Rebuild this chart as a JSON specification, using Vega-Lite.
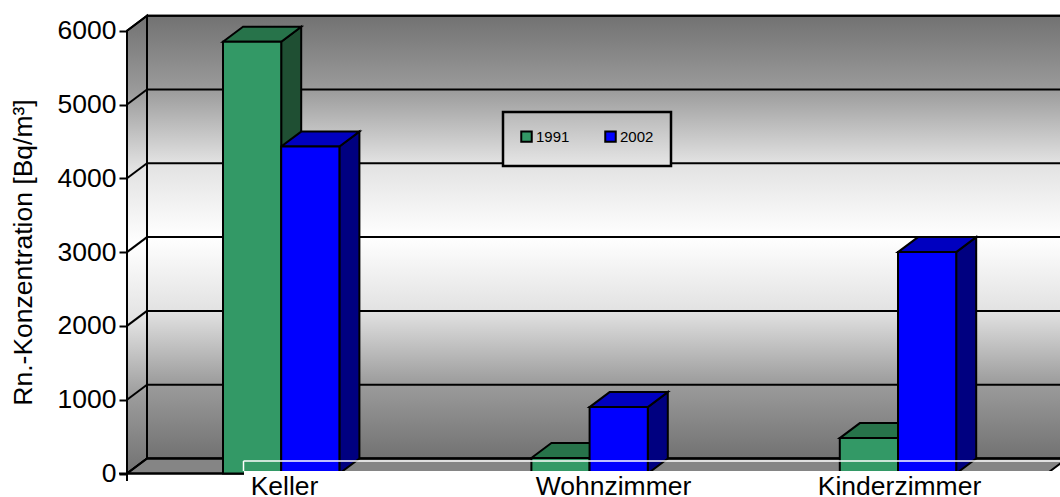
{"$schema":"https://vega.github.io/schema/vega-lite/v6.json","width":1060,"height":497,"padding":0,"autosize":{"type":"none"},"background":"white","config":{"view":{"stroke":null},"font":"Liberation Sans"},
"resolve":{"axis":{"x":"independent","y":"independent"}},
"datasets":{"bars":[{"room":"Keller","year":"1991","value":5850},{"room":"Keller","year":"2002","value":4430},{"room":"Wohnzimmer","year":"1991","value":210},{"room":"Wohnzimmer","year":"2002","value":900},{"room":"Kinderzimmer","year":"1991","value":480},{"room":"Kinderzimmer","year":"2002","value":3000}],"levels":[{"v":0},{"v":1000},{"v":2000},{"v":3000},{"v":4000},{"v":5000},{"v":6000}]},
"layer":[
{"data":{"values":[{}]},"mark":{"type":"rect","stroke":"black","strokeWidth":2,"color":{"gradient":"linear","x1":0,"y1":0,"x2":0,"y2":1,"stops":[{"offset":0,"color":"#727272"},{"offset":0.167,"color":"#9b9b9b"},{"offset":0.333,"color":"#e2e2e2"},{"offset":0.5,"color":"#ffffff"},{"offset":0.667,"color":"#e2e2e2"},{"offset":0.833,"color":"#9b9b9b"},{"offset":1,"color":"#727272"}]}},
"encoding":{"x":{"datum":147,"type":"quantitative","scale":{"domain":[0,1060],"nice":false,"zero":false},
"axis":{"values":[284,613,899],"labelExpr":"datum.value==284?'Keller':datum.value==613?'Wohnzimmer':'Kinderzimmer'","orient":"bottom","offset":-24,"domain":false,"ticks":false,"grid":false,"labelFontSize":26.5,"labelColor":"black","labelPadding":0,"labelFlush":false,"title":null,"zindex":1}},
"x2":{"datum":1067},
"y":{"datum":203,"type":"quantitative","scale":{"domain":[-318.4,6416],"nice":false,"zero":false},
"axis":{"values":[0,1000,2000,3000,4000,5000,6000],"format":"d","orient":"left","offset":-127,"domain":false,"tickSize":8,"tickWidth":2,"tickColor":"black","grid":false,"labelFontSize":26.5,"labelColor":"black","labelPadding":3,"title":"Rn.-Konzentration [Bq/m³]","titleFontSize":26.5,"titleFontWeight":"normal","titleColor":"black","titleX":-90,"titleY":252,"zindex":1}},
"y2":{"datum":6203}}},
{"data":{"values":[{}]},"transform":[{"calculate":"[0,1]","as":"t"},{"flatten":["t"]},{"calculate":"127+20*datum.t","as":"ax"},{"calculate":"6000+203*datum.t","as":"hi"},{"calculate":"203*datum.t","as":"lo"}],
"mark":{"type":"area","orient":"vertical","stroke":"black","strokeWidth":2,"color":{"gradient":"linear","x1":0,"y1":0,"x2":0,"y2":1,"stops":[{"offset":0,"color":"#727272"},{"offset":0.167,"color":"#9b9b9b"},{"offset":0.333,"color":"#e2e2e2"},{"offset":0.5,"color":"#ffffff"},{"offset":0.667,"color":"#e2e2e2"},{"offset":0.833,"color":"#9b9b9b"},{"offset":1,"color":"#727272"}]}},
"encoding":{"x":{"field":"ax","type":"quantitative","axis":null},"y":{"field":"hi","type":"quantitative","axis":null,"stack":null},"y2":{"field":"lo"}}},
{"data":{"values":[{}]},"transform":[{"calculate":"[0,1]","as":"t"},{"flatten":["t"]},{"calculate":"127+20*datum.t","as":"ax"},{"calculate":"1047+20*datum.t","as":"bx"},{"calculate":"203*datum.t","as":"fy"}],
"mark":{"type":"area","orient":"horizontal","stroke":"black","strokeWidth":2,"fill":"#858585"},
"encoding":{"y":{"field":"fy","type":"quantitative","axis":null,"stack":null},"x":{"field":"ax","type":"quantitative","axis":null},"x2":{"field":"bx"}}},
{"data":{"name":"levels"},"transform":[{"calculate":"datum.v+203","as":"b"}],"mark":{"type":"rule","stroke":"black","strokeWidth":2},
"encoding":{"x":{"datum":147,"type":"quantitative","axis":null},"x2":{"datum":1067},"y":{"field":"b","type":"quantitative","axis":null}}},
{"data":{"name":"levels"},"transform":[{"calculate":"[0,1]","as":"t"},{"flatten":["t"]},{"calculate":"127+20*datum.t","as":"ax"},{"calculate":"datum.v+203*datum.t","as":"b"}],"mark":{"type":"line","stroke":"black","strokeWidth":2},
"encoding":{"x":{"field":"ax","type":"quantitative","axis":null},"y":{"field":"b","type":"quantitative","axis":null},"detail":{"field":"v"}}},
{"data":{"values":[{}]},"mark":{"type":"rule","stroke":"black","strokeWidth":2},"encoding":{"x":{"datum":127,"type":"quantitative","axis":null},"y":{"datum":-100,"type":"quantitative","axis":null},"y2":{"datum":6000}}},
{"data":{"values":[{}]},"mark":{"type":"rule","stroke":"black","strokeWidth":2},"encoding":{"x":{"datum":119,"type":"quantitative","axis":null},"x2":{"datum":1047},"y":{"datum":0,"type":"quantitative","axis":null}}},
{"data":{"name":"bars"},"transform":[{"calculate":"[0,1]","as":"t"},{"flatten":["t"]},{"calculate":"223+308.4*indexof(['Keller','Wohnzimmer','Kinderzimmer'],datum.room)+(datum.year=='2002'?58.2:0)","as":"left"},{"calculate":"datum.left+58.2+20*datum.t","as":"ax"},{"calculate":"datum.value+203*datum.t","as":"hi"},{"calculate":"203*datum.t","as":"lo"}],
"mark":{"type":"area","orient":"vertical","stroke":"black","strokeWidth":2},
"encoding":{"x":{"field":"ax","type":"quantitative","axis":null},"y":{"field":"hi","type":"quantitative","axis":null,"stack":null},"y2":{"field":"lo"},"detail":[{"field":"room"},{"field":"year"}],"fill":{"condition":{"test":"datum.year=='1991'","value":"#1f4f33"},"value":"#000080"}}},
{"data":{"name":"bars"},"transform":[{"calculate":"[0,1]","as":"t"},{"flatten":["t"]},{"calculate":"223+308.4*indexof(['Keller','Wohnzimmer','Kinderzimmer'],datum.room)+(datum.year=='2002'?58.2:0)","as":"left"},{"calculate":"datum.left+20*datum.t","as":"ax"},{"calculate":"datum.left+58.2+20*datum.t","as":"bx"},{"calculate":"datum.value+203*datum.t","as":"hi"}],
"mark":{"type":"area","orient":"horizontal","stroke":"black","strokeWidth":2},
"encoding":{"y":{"field":"hi","type":"quantitative","axis":null,"stack":null},"x":{"field":"ax","type":"quantitative","axis":null},"x2":{"field":"bx"},"detail":[{"field":"room"},{"field":"year"}],"fill":{"condition":{"test":"datum.year=='1991'","value":"#27734a"},"value":"#0000c0"}}},
{"data":{"name":"bars"},"transform":[{"calculate":"223+308.4*indexof(['Keller','Wohnzimmer','Kinderzimmer'],datum.room)+(datum.year=='2002'?58.2:0)","as":"left"},{"calculate":"datum.left+58.2","as":"right"}],
"mark":{"type":"rect","stroke":"black","strokeWidth":2},
"encoding":{"x":{"field":"left","type":"quantitative","axis":null},"x2":{"field":"right"},"y":{"field":"value","type":"quantitative","axis":null},"y2":{"datum":0},
"color":{"field":"year","type":"nominal","scale":{"domain":["1991","2002"],"range":["#339966","#0000ff"]},"legend":{"orient":"none","legendX":519,"legendY":129,"direction":"horizontal","columns":2,"title":null,"symbolType":"square","symbolSize":110,"symbolStrokeColor":"black","symbolStrokeWidth":2,"labelFont":"Liberation Sans","labelFontSize":15,"labelColor":"black","labelOffset":2,"columnPadding":31,"zindex":1}}}},
{"data":{"values":[{}]},"mark":{"type":"rect","stroke":"black","strokeWidth":2.5,"color":{"gradient":"linear","x1":0,"y1":0,"x2":0,"y2":1,"stops":[{"offset":0,"color":"#b8b8b8"},{"offset":1,"color":"#e6e6e6"}]}},
"encoding":{"x":{"datum":503,"type":"quantitative","axis":null},"x2":{"datum":671},"y":{"datum":4898,"type":"quantitative","axis":null},"y2":{"datum":4167}}},
{"data":{"values":[{}]},"mark":{"type":"rect","fill":"white"},"encoding":{"x":{"datum":244,"type":"quantitative","axis":null},"x2":{"datum":1060},"y":{"datum":34,"type":"quantitative","axis":null},"y2":{"datum":-318}}},
{"data":{"values":[{}]},"mark":{"type":"rule","stroke":"white","strokeWidth":1.5},"encoding":{"x":{"datum":243.5,"type":"quantitative","axis":null},"x2":{"datum":1060},"y":{"datum":169,"type":"quantitative","axis":null}}},
{"data":{"values":[{}]},"mark":{"type":"rule","stroke":"white","strokeWidth":1.5},"encoding":{"x":{"datum":243.5,"type":"quantitative","axis":null},"y":{"datum":169,"type":"quantitative","axis":null},"y2":{"datum":34}}}
]}
